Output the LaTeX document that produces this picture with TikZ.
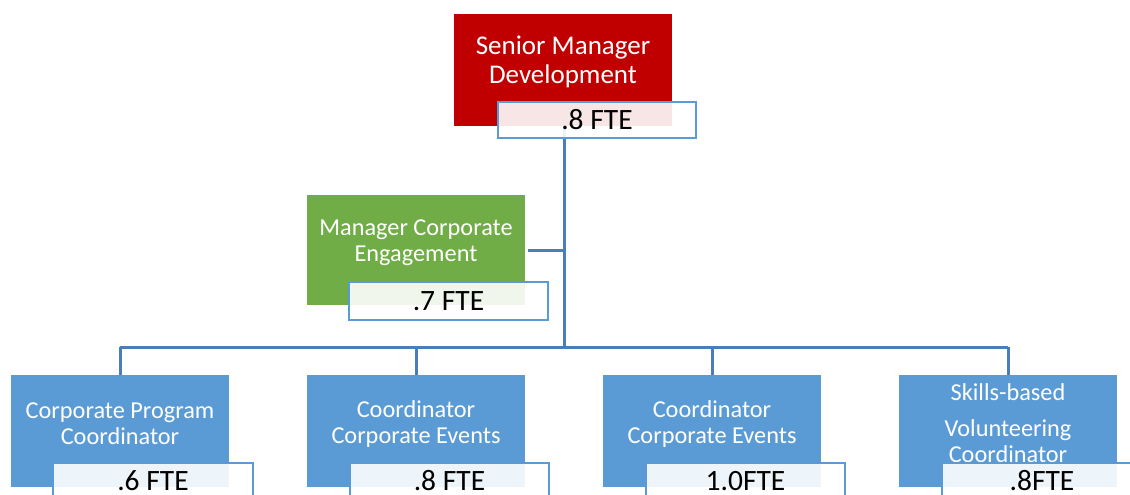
\documentclass[tikz,border=0pt]{standalone}
\usepackage{fontspec}
\setmainfont{Carlito}
\definecolor{seniorred}{HTML}{C00000}
\definecolor{mgrgreen}{HTML}{70AD47}
\definecolor{staffblue}{HTML}{5B9BD5}
\definecolor{linkblue}{HTML}{4A7EBB}
\definecolor{fteblue}{HTML}{5B9BD5}
\tikzset{
  role/.style={minimum height=112pt, minimum width=218pt, inner sep=0pt, outer sep=0pt},
  rolelabel/.style={text=white, align=center, inner sep=0pt, font=\fontsize{24.3}{26}\selectfont},
  headlabel/.style={rolelabel, font=\fontsize{27}{29}\selectfont},
  fte/.style={draw=fteblue, line width=2.6pt, fill=white, fill opacity=0.9, text opacity=1,
              minimum width=198pt, minimum height=36pt, inner sep=0pt, outer sep=0pt,
              font=\fontsize{29.5}{30}\selectfont},
  conn/.style={draw=linkblue, line width=3pt}
}
\begin{document}
\begin{tikzpicture}[x=1pt,y=-1pt]
\useasboundingbox (0,0) rectangle (1130,495);
\clip (0,0) rectangle (1130,495);

% junction points of the tree
\coordinate (trunk) at (564,347);

% role boxes
\node[role, fill=seniorred] (top) at (563,70) {};
\node[role, fill=mgrgreen, minimum height=110pt] (mgr) at (416,250) {};
\node[role, fill=staffblue] (c1) at (120,431) {};
\node[role, fill=staffblue] (c2) at (416,431) {};
\node[role, fill=staffblue] (c3) at (712,431) {};
\node[role, fill=staffblue] (c4) at (1008,431) {};

% connectors
\draw[conn] (trunk |- top.south) -- (trunk);
\draw[conn] ([xshift=3pt]mgr.east) -- (mgr.east -| trunk);
\draw[conn] (c1.north |- trunk) -- (c4.north |- trunk);
\foreach \n in {c1,c2,c3,c4} \draw[conn] (\n.north |- trunk) -- (\n.north);

% role titles
\node[headlabel] (topt) at (563,62) {Senior Manager\\Development};
\node[rolelabel] (mgrt) at (416,243) {Manager Corporate\\Engagement};
\node[rolelabel] (c1t) at (120,424) {Corporate Program\\Coordinator};
\node[rolelabel] (c2t) at (416,424) {Coordinator\\Corporate Events};
\node[rolelabel] (c3t) at (712,424) {Coordinator\\Corporate Events};
\node[rolelabel] (c4ta) at (1008,392) {Skills-based};
\node[rolelabel] (c4tb) at (1008,441) {Volunteering\\Coordinator};

% FTE tags
\node[fte] (topf) at (597,120) {.8 FTE};
\node[fte, minimum height=38pt, minimum width=199pt] (mgrf) at (448.5,301) {.7 FTE};
\node[fte, minimum width=200pt] (c1f) at (153,481) {.6 FTE};
\node[fte, minimum width=199pt] (c2f) at (449.5,481) {.8 FTE};
\node[fte, minimum width=199pt] (c3f) at (745.5,481) {1.0FTE};
\node[fte, minimum width=200pt] (c4f) at (1042,481) {.8FTE};
\end{tikzpicture}
\end{document}
